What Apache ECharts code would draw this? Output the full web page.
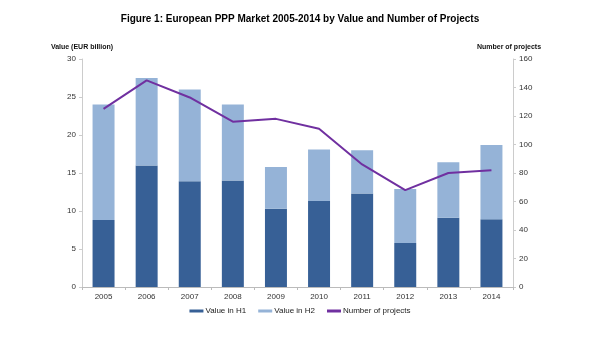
<!DOCTYPE html>
<html>
<head>
<meta charset="utf-8">
<script src="https://cdn.jsdelivr.net/npm/echarts@6/dist/echarts.min.js"></script>
<style>html,body{margin:0;padding:0;background:#fff}#c{width:600px;height:338px}</style>
</head>
<body>
<div id="c"></div>
<script>
var years = ['2005','2006','2007','2008','2009','2010','2011','2012','2013','2014'];
var valueH1 = [8.8, 16.0, 13.9, 14.0, 10.3, 11.3, 12.3, 5.8, 9.1, 8.9];
var valueH2 = [15.2, 11.5, 12.1, 10.0, 5.5, 6.8, 5.7, 7.1, 7.3, 9.8];
var projects = [125, 145, 133, 116, 118, 111, 86, 68, 80, 82];
var leftTicks = [0, 5, 10, 15, 20, 25, 30];
var rightTicks = [0, 20, 40, 60, 80, 100, 120, 140, 160];

var chart = echarts.init(document.getElementById('c'));
var font = 'Liberation Sans, Arial, sans-serif';
chart.setOption({
  animation: false,
  textStyle: {fontFamily: font},
  title: {
    text: 'Figure 1: European PPP Market 2005-2014 by Value and Number of Projects',
    left: 'center', top: 9,
    textStyle: {fontSize: 10, fontWeight: 'bold', color: '#000', fontFamily: font}
  },
  legend: {
    bottom: 18, left: 'center',
    itemWidth: 14, itemHeight: 3, itemGap: 12,
    textStyle: {fontSize: 8, color: '#222', fontFamily: font, padding: [0,0,0,-3]},
    data: [
      {name: 'Value in H1', icon: 'rect'},
      {name: 'Value in H2', icon: 'rect'},
      {name: 'Number of projects', icon: 'rect'}
    ]
  },
  grid: {left: 82, right: 87, top: 59, bottom: 51},
  xAxis: {
    type: 'category', data: years,
    axisLine: {lineStyle: {color: '#bbb'}},
    axisTick: {show: true, alignWithLabel: false, lineStyle: {color: '#bbb'}, length: 3},
    axisLabel: {fontSize: 8, color: '#333', margin: 6}
  },
  yAxis: [
    {
      type: 'value', min: leftTicks[0], max: leftTicks[leftTicks.length-1], interval: 5,
      name: 'Value (EUR billion)', nameLocation: 'end', nameGap: 8,
      nameTextStyle: {fontSize: 7, fontWeight: 'bold', color: '#111', align: 'center'},
      axisLine: {show: true, lineStyle: {color: '#ccc'}},
      axisTick: {show: true, inside: false, length: 3, lineStyle: {color: '#ccc'}},
      axisLabel: {fontSize: 8, color: '#333', margin: 6},
      splitLine: {show: false}
    },
    {
      type: 'value', min: rightTicks[0], max: rightTicks[rightTicks.length-1], interval: 20,
      name: 'Number of projects', nameLocation: 'end', nameGap: 8,
      nameTextStyle: {fontSize: 7, fontWeight: 'bold', color: '#111', align: 'center', padding: [0,8,0,0]},
      axisLine: {show: true, lineStyle: {color: '#ccc'}},
      axisTick: {show: true, length: 3, lineStyle: {color: '#ccc'}},
      axisLabel: {fontSize: 8, color: '#333', margin: 6},
      splitLine: {show: false}
    }
  ],
  series: [
    {name: 'Value in H1', type: 'bar', stack: 'v', data: valueH1, barWidth: '51%',
     itemStyle: {color: '#376096'}},
    {name: 'Value in H2', type: 'bar', stack: 'v', data: valueH2, barWidth: '51%',
     itemStyle: {color: '#95b3d7'}},
    {name: 'Number of projects', type: 'line', yAxisIndex: 1, data: projects,
     symbol: 'none', lineStyle: {color: '#7030a0', width: 2}, itemStyle: {color: '#7030a0'}}
  ]
});
</script>
</body>
</html>
